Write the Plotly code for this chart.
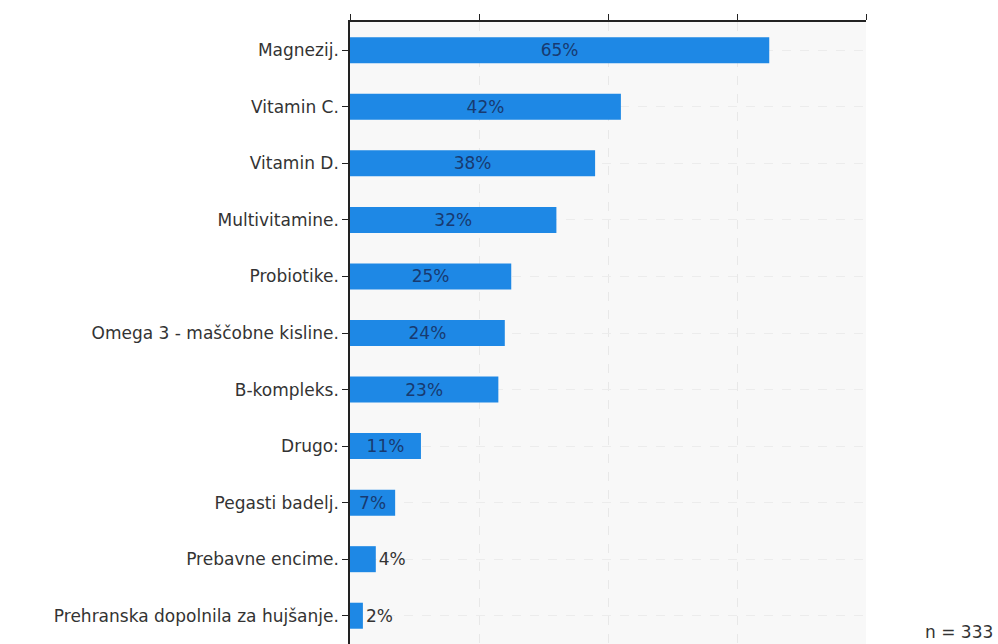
import plotly.graph_objects as go

categories = ["Magnezij.", "Vitamin C.", "Vitamin D.", "Multivitamine.", "Probiotike.",
              "Omega 3 - maščobne kisline.", "B-kompleks.", "Drugo:", "Pegasti badelj.",
              "Prebavne encime.", "Prehranska dopolnila za hujšanje."]
values = [65, 42, 38, 32, 25, 24, 23, 11, 7, 4, 2]
labels = [f"{v}%" for v in values]
tick_vals = [0, 20, 40, 60, 80]

inside = [v >= 7 for v in values]
text_pos = ["inside" if i else "outside" for i in inside]
text_col = ["#183a70" if i else "#333333" for i in inside]

FONT = "DejaVu Sans"

fig = go.Figure(go.Bar(
    x=values, y=categories, orientation="h",
    marker=dict(color="#1e88e5", line=dict(width=0)),
    width=0.46,
    text=labels, textposition=text_pos, insidetextanchor="middle",
    textfont=dict(family=FONT, size=17, color=text_col),
    cliponaxis=False,
))

fig.update_layout(
    width=998, height=644,
    margin=dict(l=350, r=132, t=22, b=0),
    paper_bgcolor="white", plot_bgcolor="#f8f8f8",
    font=dict(family=FONT, size=17, color="#333333"),
    showlegend=False,
    uniformtext=dict(minsize=8, mode="show"),
)
fig.update_xaxes(
    side="top", range=[0, 80], tickvals=tick_vals, showticklabels=False,
    ticks="outside", ticklen=6, tickcolor="#222222", showline=True, linecolor="#222222",
    linewidth=1.5, showgrid=True, gridcolor="#e8e8e8", griddash="dash", zeroline=False,
)
fig.update_yaxes(
    autorange="reversed", ticks="outside", ticklen=6, tickcolor="#222222",
    showline=True, linecolor="#222222", linewidth=1.5,
    showgrid=True, gridcolor="#ececec", griddash="dash",
    tickfont=dict(family=FONT, size=17, color="#333333"),
)
fig.add_annotation(text="n = 333", xref="paper", yref="paper", x=1.25, y=0.0,
                   xanchor="right", yanchor="bottom", showarrow=False,
                   font=dict(family=FONT, size=17, color="#333333"))

fig.write_html("out.html")
